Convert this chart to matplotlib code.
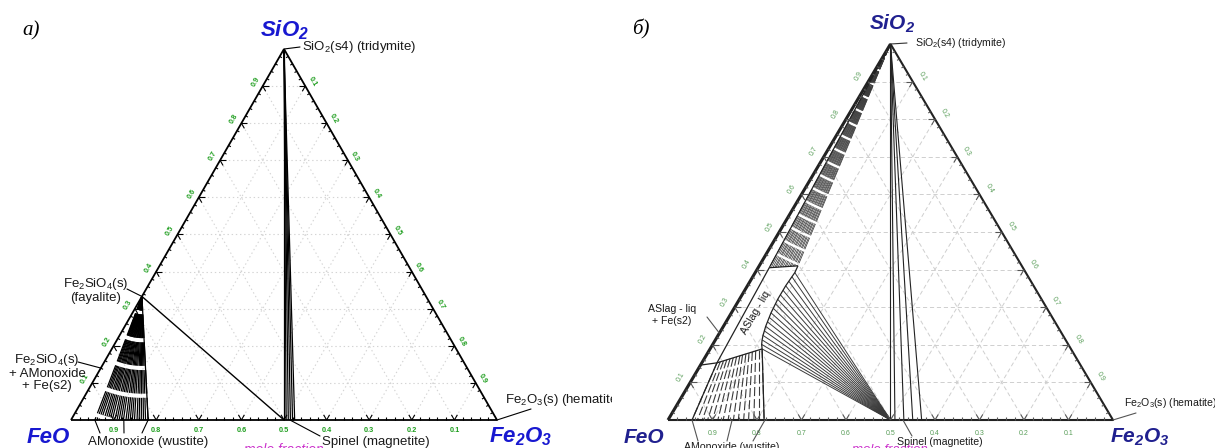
import numpy as np
import matplotlib
matplotlib.use('Agg')
import matplotlib.pyplot as plt

plt.rcParams['font.family'] = ['Liberation Sans', 'DejaVu Sans']
plt.rcParams['mathtext.fontset'] = 'custom'
plt.rcParams['mathtext.rm'] = 'Liberation Sans'
plt.rcParams['mathtext.it'] = 'Liberation Sans:italic'
plt.rcParams['mathtext.bf'] = 'Liberation Sans:italic:bold'
plt.rcParams['lines.scale_dashes'] = False
plt.rcParams['lines.solid_capstyle'] = 'butt'

W, H = 1215, 448

# compositions are given as (SiO2, Fe2O3) mole fractions, FeO = 1 - SiO2 - Fe2O3
grid_levels = [0.1, 0.2, 0.3, 0.4, 0.5, 0.6, 0.7, 0.8, 0.9]
tick_minor = [round(0.02 * i, 2) for i in range(1, 50) if i % 5]

# --- panel a) ---
a_fayalite = (0.333, 0.0)
a_magnetite = 0.5
a_spinel_fe2o3 = [0.500, 0.505, 0.510, 0.515, 0.520, 0.525]
a_wustite_fe2o3 = [0.056, 0.061, 0.066, 0.071, 0.077, 0.082, 0.087, 0.092, 0.097,
                   0.103, 0.108, 0.113, 0.118, 0.123, 0.129, 0.134, 0.139, 0.144,
                   0.149, 0.155, 0.160, 0.165, 0.170, 0.175, 0.181]

# --- panel б) ---
b_magnetite = 0.5
b_spinel_fe2o3 = [0.500, 0.510, 0.530, 0.550, 0.570]
b_liq_sio2 = [0.189, 0.201, 0.213, 0.225, 0.237, 0.249, 0.261, 0.273, 0.285,
              0.297, 0.309, 0.321, 0.333, 0.345, 0.357, 0.369, 0.381, 0.392]
b_liq_fe2o3 = [0.117, 0.110, 0.105, 0.101, 0.098, 0.095, 0.093, 0.091, 0.089,
               0.088, 0.087, 0.086, 0.086, 0.086, 0.086, 0.087, 0.088, 0.089]
b_liq_top = (0.410, 0.087)
b_band_sio2 = [0.405, 0.405, 0.406, 0.406, 0.406, 0.406, 0.407, 0.407, 0.407,
               0.407, 0.408, 0.408, 0.408, 0.409, 0.409, 0.409, 0.410, 0.410]
b_band_fe2o3 = [0.025, 0.029, 0.033, 0.037, 0.040, 0.044, 0.048, 0.051, 0.055,
                0.059, 0.062, 0.066, 0.070, 0.073, 0.077, 0.080, 0.084, 0.087]
b_strip_sio2 = [0.405, 0.152]
b_strip_fe2o3 = [0.025, 0.034]
b_3ph_sio2 = [0.146, 0.152]
b_3ph_fe2o3 = [0.000, 0.034]
b_wus_top_sio2 = [0.152, 0.155, 0.157, 0.160, 0.163, 0.165, 0.168, 0.171,
                  0.173, 0.176, 0.178, 0.181, 0.184, 0.186, 0.189]
b_wus_top_fe2o3 = [0.034, 0.040, 0.046, 0.052, 0.058, 0.064, 0.070, 0.076,
                   0.081, 0.087, 0.093, 0.099, 0.105, 0.111, 0.117]
b_wus_base_fe2o3 = [0.054, 0.066, 0.077, 0.089, 0.100, 0.112, 0.124, 0.135,
                    0.147, 0.158, 0.170, 0.181, 0.193, 0.204, 0.216]


def tp(sio2, fe2o3):
    s = np.asarray(sio2, dtype=float)
    f = np.asarray(fe2o3, dtype=float)
    return f + 0.5 * s, s


fig = plt.figure(figsize=(W / 100, H / 100), dpi=100)


def panel(px0, px1, left_px, side_px, base_py, apex_py):
    ax = fig.add_axes([px0 / W, 0, (px1 - px0) / W, 1])
    h = base_py - apex_py
    ax.set_xlim((px0 - left_px) / side_px, (px1 - left_px) / side_px)
    ax.set_ylim((base_py - H) / h, base_py / h)
    ax.set_axis_off()
    return ax


def draw_grid(ax, **kw):
    for v in grid_levels:
        for s, f in (([v, v], [0, 1 - v]), ([0, 1 - v], [v, v]), ([0, 1 - v], [1 - v, 0])):
            ax.plot(*tp(s, f), **kw)


def draw_frame(ax, color, lw, lw_left):
    ax.plot(*tp([0, 0, 1], [0, 1, 0]), color=color, lw=lw)
    ax.plot(*tp([1, 0], [0, 0]), color=color, lw=lw_left)


SIDES = [
    dict(pt=lambda v: (0.0, v), arms=[(0.5, 1), (-0.5, 1)], minor=(0, 1),
         out=(0, -1.25), rot=0, lab=lambda v: 1 - v),
    dict(pt=lambda v: (v, 0.0), arms=[(1, 0), (0.5, -1)], minor=(0.75, -0.5),
         out=(-0.75, 0.5), rot=60, lab=lambda v: v),
    dict(pt=lambda v: (1 - v, v), arms=[(-1, 0), (-0.5, -1)], minor=(-0.75, -0.5),
         out=(0.75, 0.5), rot=-60, lab=lambda v: v),
]


def draw_ticks(ax, color, lw, arm, mlen, loff, lcolor, lsize, lweight):
    for side in SIDES:
        for v in grid_levels:
            x0, y0 = tp(*side['pt'](v))
            for dx, dy in side['arms']:
                ax.plot([x0, x0 + arm * dx], [y0, y0 + arm * dy], color=color, lw=lw)
            ax.text(x0 + loff * side['out'][0], y0 + loff * side['out'][1],
                    '%.1f' % side['lab'](v), rotation=side['rot'], ha='center',
                    va='center', fontsize=lsize, color=lcolor, fontweight=lweight)
        for v in tick_minor:
            x0, y0 = tp(*side['pt'](v))
            dx, dy = side['minor']
            ax.plot([x0, x0 + mlen * dx], [y0, y0 + mlen * dy], color=color, lw=lw)


def label(ax, text, x, y, **kw):
    ax.annotate(text, xy=(x, H - y), xycoords='figure pixels', **kw)


def leader(ax, point, x, y, color, lw=0.8):
    ax.annotate('', xy=tp(*point), xytext=(x, H - y), textcoords='figure pixels',
                arrowprops=dict(arrowstyle='-', color=color, lw=lw, shrinkA=0, shrinkB=0))


# ======================= panel a) =======================
ax = panel(0, 612, 71, 426, 420, 49)
draw_grid(ax, color='#d4d4d4', lw=0.8, linestyle=(0, (1, 2)))

for f in a_wustite_fe2o3:
    ax.plot(*tp([a_fayalite[0], 0], [a_fayalite[1], f]), color='black', lw=0.9,
            linestyle=(7, (17, 3)))
for f in a_spinel_fe2o3:
    ax.plot(*tp([1, 0], [0, f]), color='black', lw=0.9)
ax.plot(*tp([a_fayalite[0], 0], [a_fayalite[1], a_magnetite]), color='black', lw=1.0)
ax.plot(*tp([a_fayalite[0], 0], [a_fayalite[1], a_wustite_fe2o3[-1]]), color='black', lw=0.9)

draw_frame(ax, 'black', 1.3, 1.3)
draw_ticks(ax, 'black', 0.8, 0.014, 0.007, 0.022, '#1f9e1f', 5.3, 'bold')

vcol_a = '#1818d0'
label(ax, 'FeO', 48, 437, ha='center', va='center', fontsize=16, color=vcol_a,
      fontweight='bold', fontstyle='italic')
label(ax, r'$\mathbf{Fe_2O_3}$', 521, 437, ha='center', va='center', fontsize=16, color=vcol_a)
label(ax, r'$\mathbf{SiO_2}$', 285, 30, ha='center', va='center', fontsize=16, color=vcol_a)

lab_a = dict(fontsize=9.5, color='#1a1a1a')
label(ax, r'SiO$_2$(s4) (tridymite)', 302, 47, ha='left', va='center', **lab_a)
leader(ax, (1.0, 0.0), 300, 47, 'black')
label(ax, 'Fe$_2$SiO$_4$(s)\n(fayalite)', 96, 290, ha='center', va='center',
      multialignment='center', linespacing=1.0, **lab_a)
leader(ax, a_fayalite, 127, 289, 'black')
label(ax, 'Fe$_2$SiO$_4$(s)\n+ AMonoxide\n+ Fe(s2)', 47, 372, ha='center', va='center',
      multialignment='center', linespacing=1.0, **lab_a)
leader(ax, (0.14, 0.0), 78, 362, 'black')
label(ax, 'AMonoxide (wustite)', 148, 442, ha='center', va='center', **lab_a)
for f, x in zip([0.056, 0.124, 0.181], [100, 124, 142]):
    leader(ax, (0.0, f), x, 433, 'black')
label(ax, 'Spinel (magnetite)', 322, 442, ha='left', va='center', **lab_a)
leader(ax, (0.0, 0.514), 320, 436, 'black')
label(ax, r'Fe$_2$O$_3$(s) (hematite)', 505, 400, ha='left', va='center', clip_on=True, **lab_a)
leader(ax, (0.0, 1.0), 531, 409, 'black')
label(ax, 'mole fraction', 284, 450, ha='center', va='center', fontsize=10,
      color='#cc33cc', fontstyle='italic')

# ======================= panel б) =======================
bx = panel(612, 1215, 668, 445, 420, 44)
draw_grid(bx, color='#cfcfcf', lw=0.7, linestyle=(0, (3, 2)))

hatch_b = '#3a3a3a'
for s, f in zip(b_band_sio2, b_band_fe2o3):
    bx.plot(*tp([1, s], [0, f]), color=hatch_b, lw=0.55, linestyle=(0, (9, 1.8)))
for s, f in zip(b_liq_sio2, b_liq_fe2o3):
    bx.plot(*tp([s, 0], [f, b_magnetite]), color=hatch_b, lw=0.7)
for st, ft, fb in zip(b_wus_top_sio2, b_wus_top_fe2o3, b_wus_base_fe2o3):
    bx.plot(*tp([st, 0], [ft, fb]), color=hatch_b, lw=0.8, linestyle=(0, (6.5, 2.2)))
for f in b_spinel_fe2o3:
    bx.plot(*tp([1, 0], [0, f]), color='#222222', lw=0.8)

bx.plot(*tp(b_liq_sio2 + [b_liq_top[0]], b_liq_fe2o3 + [b_liq_top[1]]), color='#222222', lw=0.9)
bx.plot(*tp([b_band_sio2[0], b_band_sio2[-1]], [b_band_fe2o3[0], b_band_fe2o3[-1]]),
        color='#222222', lw=0.9)
bx.plot(*tp([1, b_band_sio2[0]], [0, b_band_fe2o3[0]]), color='#222222', lw=0.9)
bx.plot(*tp(b_strip_sio2, b_strip_fe2o3), color='#222222', lw=0.9)
bx.plot(*tp(b_3ph_sio2, b_3ph_fe2o3), color='#222222', lw=0.9)
bx.plot(*tp([b_wus_top_sio2[0], b_wus_top_sio2[-1]], [b_wus_top_fe2o3[0], b_wus_top_fe2o3[-1]]),
        color='#222222', lw=0.9)
bx.plot(*tp([b_wus_top_sio2[0], 0], [b_wus_top_fe2o3[0], b_wus_base_fe2o3[0]]), color='#222222', lw=0.9)
bx.plot(*tp([b_wus_top_sio2[-1], 0], [b_wus_top_fe2o3[-1], b_wus_base_fe2o3[-1]]), color='#222222', lw=0.9)

draw_frame(bx, '#222222', 1.5, 2.2)
draw_ticks(bx, '#555555', 0.8, 0.015, 0.007, 0.029, '#5a9e5a', 5.0, 'normal')

vcol_b = '#20208f'
label(bx, 'FeO', 644, 437, ha='center', va='center', fontsize=15, color=vcol_b,
      fontweight='bold', fontstyle='italic')
label(bx, r'$\mathbf{Fe_2O_3}$', 1140, 437, ha='center', va='center', fontsize=15, color=vcol_b)
label(bx, r'$\mathbf{SiO_2}$', 892, 24, ha='center', va='center', fontsize=15, color=vcol_b)

lab_b = dict(fontsize=7.6, color='#1a1a1a')
label(bx, r'SiO$_2$(s4) (tridymite)', 915, 43, ha='left', va='center', **lab_b)
leader(bx, (1.0, 0.0), 907, 43, '#333333')
label(bx, 'ASlag - liq\n+ Fe(s2)', 672, 315, ha='center', va='center',
      multialignment='center', linespacing=1.2, **lab_b)
leader(bx, (0.231, 0.0), 707, 317, '#555555')
label(bx, 'ASlag - liq', 756, 313, ha='center', va='center', rotation=60, **lab_b)
label(bx, 'AMonoxide (wustite)', 732, 447, ha='center', va='center', **lab_b)
for f, x in zip([0.054, 0.144, 0.218], [698, 727, 753]):
    leader(bx, (0.0, f), x, 441, '#555555')
label(bx, 'Spinel (magnetite)', 897, 441.5, ha='left', va='center', **lab_b)
leader(bx, (0.0, 0.528), 912, 436, '#555555')
label(bx, r'Fe$_2$O$_3$(s) (hematite)', 1124, 403, ha='left', va='center', **lab_b)
leader(bx, (0.0, 1.0), 1136, 413, '#555555')
label(bx, 'mole fraction', 890, 450, ha='center', va='center', fontsize=9.5,
      color='#cc33cc', fontstyle='italic')

fig.text(31 / W, 1 - 31 / H, 'а)', fontsize=15, fontstyle='italic', family='Liberation Serif',
         ha='center', va='center')
fig.text(641 / W, 1 - 29 / H, 'б)', fontsize=15, fontstyle='italic', family='Liberation Serif',
         ha='center', va='center')

fig.savefig('out.png', dpi=100)
